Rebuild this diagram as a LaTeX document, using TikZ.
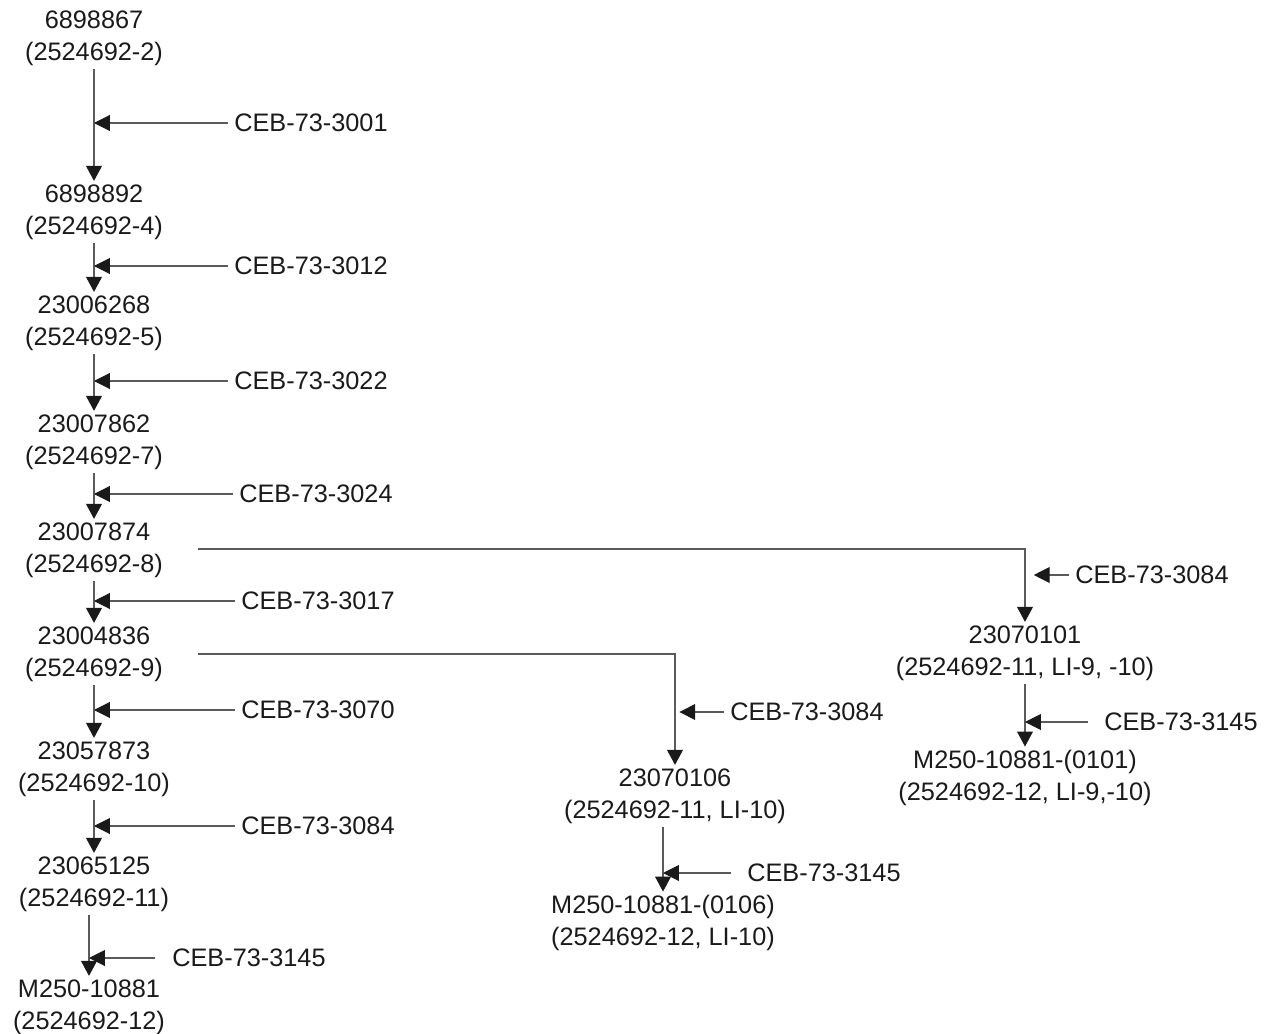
\documentclass[tikz,border=0pt]{standalone}
\usepackage{fontspec}
\setmainfont{Liberation Sans}
\usepackage{tikz}
\usepackage{xcolor}
\usetikzlibrary{arrows.meta}
\definecolor{ink}{HTML}{1A1A1A}
\definecolor{linegray}{HTML}{5A5A5A}
\tikzset{
  part/.style={align=center,inner sep=2pt,text=ink,
               font=\fontsize{14.4}{18}\selectfont},
  ceb/.style={anchor=west,inner sep=3.4pt,text=ink,
              font=\fontsize{14.4}{18}\selectfont},
  flowarr/.style={-{Triangle[length=8.5pt,width=9pt,ink]},line width=0.6pt,
                  draw=linegray},
  cebarr/.style={-{Triangle[length=9pt,width=9pt,ink]},line width=0.6pt,
                 draw=linegray}
}

\begin{document}
\begin{tikzpicture}[x=0.02cm,y=-0.02cm]
    \path[use as bounding box] (0,0) rectangle (1269,1034);
    % main line
    \node[part] (p1) at (94,38)  {6898867\\(2524692-2)};
    \node[part] (p2) at (94,212) {6898892\\(2524692-4)};
    \node[part] (p3) at (94,323) {23006268\\(2524692-5)};
    \node[part] (p4) at (94,442) {23007862\\(2524692-7)};
    \node[part] (p5) at (94,550) {23007874\\(2524692-8)};
    \node[part] (p6) at (94,654) {23004836\\(2524692-9)};
    \node[part] (p7) at (94,769) {23057873\\(2524692-10)};
    \node[part] (p8) at (94,884) {23065125\\(2524692-11)};
    \node[part] (p9) at (89,1007) {M250-10881\\(2524692-12)};

    \node[ceb] (c1) at (228,123) {CEB-73-3001};
    \node[ceb] (c2) at (228,266) {CEB-73-3012};
    \node[ceb] (c3) at (228,381) {CEB-73-3022};
    \node[ceb] (c4) at (233,494) {CEB-73-3024};
    \node[ceb] (c5) at (235,601) {CEB-73-3017};
    \node[ceb] (c6) at (235,710) {CEB-73-3070};
    \node[ceb] (c7) at (235,826) {CEB-73-3084};
    \node[ceb] (c8) at (166,958) {CEB-73-3145};

    \draw[flowarr] (p1.south) -- (p2.north);
    \draw[flowarr] (p2.south) -- (p3.north);
    \draw[flowarr] (p3.south) -- (p4.north);
    \draw[flowarr] (p4.south) -- (p5.north);
    \draw[flowarr] (p5.south) -- (p6.north);
    \draw[flowarr] (p6.south) -- (p7.north);
    \draw[flowarr] (p7.south) -- (p8.north);
    \draw[flowarr] (p8.south -| p9.north) -- (p9.north);

    \draw[cebarr] (c1.west) -- (p1 |- c1.west);
    \draw[cebarr] (c2.west) -- (p1 |- c2.west);
    \draw[cebarr] (c3.west) -- (p1 |- c3.west);
    \draw[cebarr] (c4.west) -- (p1 |- c4.west);
    \draw[cebarr] (c5.west) -- (p1 |- c5.west);
    \draw[cebarr] (c6.west) -- (p1 |- c6.west);
    \draw[cebarr] (c7.west) -- (p1 |- c7.west);
    \draw[cebarr,shorten <=6pt] (c8.west) -- (p9 |- c8.west);

    % branch from -9
    \coordinate (t6) at (198,654);
    \node[part] (m1) at (675,796) {23070106\\(2524692-11, LI-10)};
    \node[part] (m2) at (663,923) {M250-10881-(0106)\\(2524692-12, LI-10)};
    \node[ceb] (d1) at (724,712) {CEB-73-3084};
    \node[ceb] (d2) at (741,873) {CEB-73-3145};
    \draw[flowarr] (t6) -| (m1.north);
    \draw[flowarr] (m1.south -| m2.north) -- (m2.north);
    \draw[cebarr,shorten >=2.5pt] (d1.west) -- (m1 |- d1.west);
    \draw[cebarr,shorten <=5.5pt] (d2.west) -- (m2 |- d2.west);

    % branch from -8
    \coordinate (t5) at (198,549);
    \node[part] (q1) at (1025,653) {23070101\\(2524692-11, LI-9, -10)};
    \node[part] (q2) at (1025,778) {M250-10881-(0101)\\(2524692-12, LI-9,-10)};
    \node[ceb] (e1) at (1069,575) {CEB-73-3084};
    \node[ceb] (e2) at (1098,722) {CEB-73-3145};
    \draw[flowarr] (t5) -| (q1.north);
    \draw[flowarr] (q1.south) -- (q2.north);
    \draw[cebarr,shorten >=5pt] (e1.west) -- (q1 |- e1.west);
    \draw[cebarr,shorten <=5.5pt] (e2.west) -- (q2 |- e2.west);
\end{tikzpicture}
\end{document}
